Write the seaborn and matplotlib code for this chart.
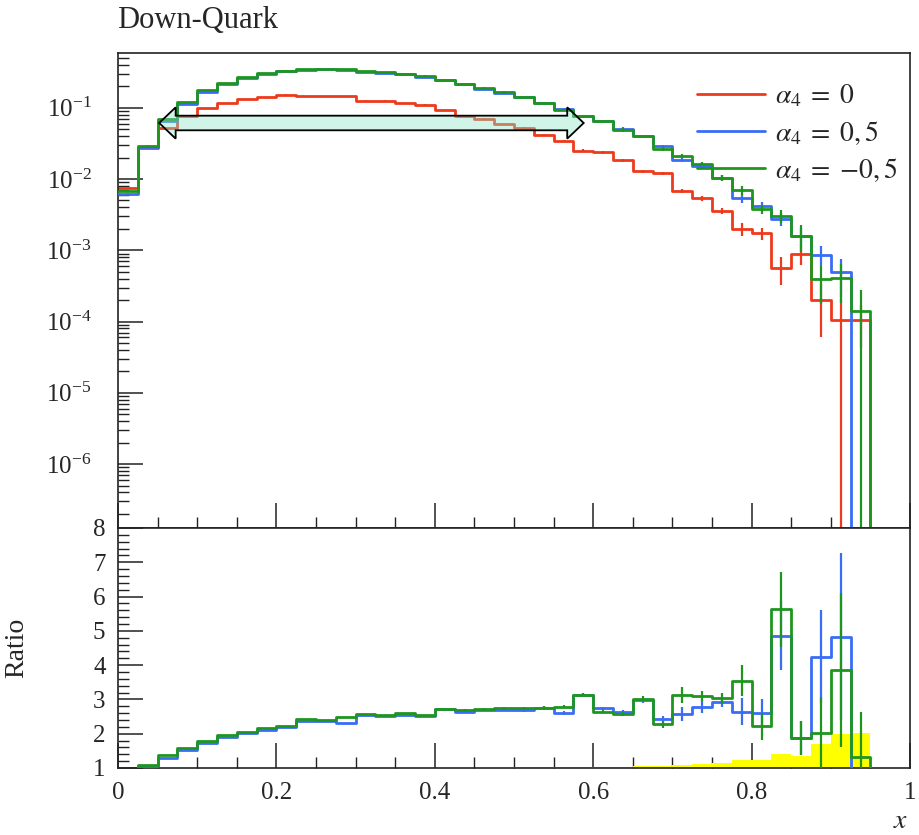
import numpy as np
import pandas as pd
import matplotlib
matplotlib.use("Agg")
import matplotlib.pyplot as plt
import seaborn as sns
from matplotlib.patches import Polygon
from matplotlib.ticker import MultipleLocator, LogLocator, NullFormatter, FuncFormatter

# ---------------- data ----------------
bin_edges = np.linspace(0.0, 1.0, 41)          # 40 bins of width 0.025

labels = [r"$\alpha_4\;=\;0$", r"$\alpha_4\;=\;0,5$", r"$\alpha_4\;=\;{-}0,5$"]

red_vals = [0.0075, 0.027, 0.052, 0.0755, 0.099, 0.116, 0.132, 0.140, 0.152, 0.144,
            0.144, 0.144, 0.125, 0.125, 0.116, 0.110, 0.0918, 0.0773, 0.0693, 0.0597,
            0.0513, 0.0418, 0.0344, 0.0249, 0.0237, 0.0183, 0.0128, 0.0120, 0.0068, 0.0054,
            0.0036, 0.0020, 0.00173, 0.00056, 0.00089, 0.00020, 0.000105, 0.000105, 0.0, 0.0]
blue_vals = [0.0062, 0.028, 0.066, 0.114, 0.168, 0.218, 0.263, 0.300, 0.325, 0.338,
             0.345, 0.340, 0.320, 0.310, 0.295, 0.270, 0.245, 0.212, 0.185, 0.163,
             0.141, 0.117, 0.0960, 0.0773, 0.0660, 0.0500, 0.0396, 0.0287, 0.0183, 0.0154,
             0.0103, 0.0054, 0.0042, 0.00275, 0.0016, 0.00087, 0.00049, 0.0, 0.0, 0.0]
green_vals = [0.0067, 0.0293, 0.070, 0.120, 0.175, 0.222, 0.266, 0.307, 0.330, 0.345,
              0.349, 0.349, 0.323, 0.313, 0.300, 0.281, 0.247, 0.217, 0.189, 0.166,
              0.141, 0.116, 0.0938, 0.0773, 0.0643, 0.0491, 0.0396, 0.0265, 0.0212, 0.0162,
              0.0103, 0.0069, 0.0038, 0.00305, 0.0016, 0.00039, 0.00041, 0.000139, 0.0, 0.0]

# relative statistical errors (top panel)
red_rel = [0.01] * 18 + [0.03] * 5 + [0.05] * 5 + [0.07, 0.08, 0.10, 0.20, 0.20, 0.42, 0.30, 0.70, 1.0, 0.6, 0.0, 0.0]
blue_rel = [0.01] * 18 + [0.03] * 7 + [0.06] * 5 + [0.10, 0.15, 0.15, 0.20, 0.30, 0.30, 0.55, 0.0, 0.0, 0.0]
green_rel = [0.01] * 18 + [0.03] * 7 + [0.06] * 5 + [0.10, 0.15, 0.15, 0.20, 0.40, 0.55, 0.55, 1.0, 0.0, 0.0]

# ratio panel
green_ratio = [0.9, 1.09, 1.37, 1.59, 1.79, 1.95, 2.05, 2.16, 2.23, 2.44,
               2.40, 2.49, 2.58, 2.54, 2.59, 2.55, 2.73, 2.69, 2.73, 2.74,
               2.74, 2.76, 2.79, 3.13, 2.64, 2.57, 3.02, 2.28, 3.13, 3.11,
               3.03, 3.54, 2.22, 5.63, 1.87, 2.01, 3.86, 1.31, 0.0, 0.0]
blue_ratio = [0.85, 1.07, 1.28, 1.52, 1.72, 1.91, 2.03, 2.11, 2.19, 2.37,
              2.38, 2.32, 2.56, 2.52, 2.54, 2.53, 2.71, 2.64, 2.69, 2.70,
              2.69, 2.76, 2.61, 3.13, 2.74, 2.64, 2.98, 2.43, 2.57, 2.79,
              2.93, 2.64, 2.61, 4.86, 1.87, 4.25, 4.83, 0.0, 0.0, 0.0]
green_ratio_err = [0.0] * 16 + [0.03] * 4 + [0.05] * 6 + [0.07, 0.10, 0.22, 0.15, 0.15,
                   0.45, 0.39, 1.10, 0.50, 1.07, 2.24, 1.33, 0.0, 0.0]
blue_ratio_err = [0.0] * 16 + [0.03] * 4 + [0.05] * 6 + [0.07, 0.10, 0.20, 0.20, 0.15,
                  0.40, 0.40, 1.00, 0.50, 1.35, 2.43, 0.0, 0.0, 0.0]
yellow_band = [1.004] * 16 + [1.008, 1.008, 1.01, 1.01, 1.015, 1.015, 1.02, 1.02, 1.03, 1.03,
               1.07, 1.07, 1.09, 1.11, 1.16, 1.23, 1.23, 1.41, 1.35, 1.70, 1.99, 2.01, 1.0, 1.0]

# annotation arrow (x-range in data units, centre height)
arrow_x = (0.052, 0.588)
arrow_y = 0.061

colors = ["#ee3a1c", "#3a6df5", "#1e961e"]

# ---------------- style ----------------
sns.set_theme(style="ticks")
plt.rcParams.update({
    "font.family": ["Liberation Serif", "DejaVu Serif"],
    "mathtext.fontset": "stix",
    "axes.linewidth": 1.2,
    "axes.edgecolor": "#222222",
})

fig = plt.figure(figsize=(9.19, 8.35), dpi=100)
ax1 = fig.add_axes([118 / 919, 1 - 528 / 835, 792 / 919, 475 / 835])
ax2 = fig.add_axes([118 / 919, 1 - 768 / 835, 792 / 919, 240 / 835])

centers = (bin_edges[:-1] + bin_edges[1:]) / 2


def step(ax, vals, color, label=None, z=2):
    y = list(vals) + [vals[-1]]
    df = pd.DataFrame({"x": bin_edges, "y": y})
    sns.lineplot(data=df, x="x", y="y", ax=ax, color=color, lw=2.0,
                 drawstyle="steps-post", estimator=None, errorbar=None,
                 sort=False, label=label, legend=False, zorder=z)


# ---------------- top panel ----------------
series = [(red_vals, red_rel), (blue_vals, blue_rel), (green_vals, green_rel)]
for i, ((vals, rel), col, lab) in enumerate(zip(series, colors, labels)):
    step(ax1, vals, col, lab, z=2 + i)
    v = np.array(vals)
    r = np.array(rel)
    m = (v > 0) & (r > 0)
    lo = v[m] * np.minimum(r[m], 1.0)
    hi = v[m] * r[m]
    ax1.errorbar(centers[m], v[m], yerr=[lo, hi], fmt="none", ecolor=col,
                 elinewidth=1.6, capsize=0, zorder=2 + i)

ax1.set_yscale("log")
ax1.set_xlim(0, 1)
ax1.set_ylim(1.27e-7, 0.585)

# double arrow annotation
lx = np.log10(arrow_y)
body, head = 0.1025, 0.22
hl = 0.0208
x0, x1 = arrow_x
pts = [
    (x0, 10 ** lx),
    (x0 + hl, 10 ** (lx + head)),
    (x0 + hl, 10 ** (lx + body)),
    (x1 - hl, 10 ** (lx + body)),
    (x1 - hl, 10 ** (lx + head)),
    (x1, 10 ** lx),
    (x1 - hl, 10 ** (lx - head)),
    (x1 - hl, 10 ** (lx - body)),
    (x0 + hl, 10 ** (lx - body)),
    (x0 + hl, 10 ** (lx - head)),
]
ax1.add_patch(Polygon(pts, closed=True, facecolor=(0.54, 0.90, 0.78, 0.4),
                      edgecolor="black", lw=1.3, zorder=10))

ax1.xaxis.set_major_locator(MultipleLocator(0.2))
ax1.xaxis.set_minor_locator(MultipleLocator(0.05))
ax1.yaxis.set_major_locator(LogLocator(base=10, numticks=20))
ax1.yaxis.set_minor_locator(LogLocator(base=10, subs=np.arange(2, 10), numticks=20))
ax1.yaxis.set_minor_formatter(NullFormatter())
ax1.tick_params(which="major", direction="in", length=18, width=1.1, top=False,
                right=False, labelbottom=False, labelsize=18, pad=19, color="#222222")
ax1.tick_params(which="minor", direction="in", length=8, width=1.0, top=False,
                right=False, color="#222222")
ax1.set_xlabel("")
ax1.set_ylabel("")

leg = ax1.legend(loc="upper left", bbox_to_anchor=((697 - 118) / 792, (528 - 83) / 475),
                 frameon=False, fontsize=20, handlelength=2.45, handletextpad=0.35,
                 labelspacing=0.33, borderpad=0, borderaxespad=0)
for line in leg.get_lines():
    line.set_linewidth(2.0)

fig.text(117 / 919, 1 - 28 / 835, "Down-Quark", ha="left", va="baseline", fontsize=22)

# ---------------- ratio panel ----------------
ax2.fill_between(bin_edges, 1.0, list(yellow_band) + [yellow_band[-1]], step="post",
                 color="#ffff00", lw=0, zorder=1)
for i, (vals, err, col) in enumerate([(blue_ratio, blue_ratio_err, colors[1]),
                                      (green_ratio, green_ratio_err, colors[2])]):
    step(ax2, vals, col, None, z=3 + i)
    v = np.array(vals)
    e = np.array(err)
    m = (v > 0) & (e > 0)
    ax2.errorbar(centers[m], v[m], yerr=e[m], fmt="none", ecolor=col,
                 elinewidth=1.6, capsize=0, zorder=3 + i)

ax2.set_xlim(0, 1)
ax2.set_ylim(1, 8)
ax2.xaxis.set_major_locator(MultipleLocator(0.2))
ax2.xaxis.set_minor_locator(MultipleLocator(0.05))
ax2.yaxis.set_major_locator(MultipleLocator(1))
ax2.yaxis.set_minor_locator(MultipleLocator(0.2))
ax2.xaxis.set_major_formatter(FuncFormatter(
    lambda v, p: "0" if abs(v) < 1e-9 else ("1" if abs(v - 1) < 1e-9 else f"{v:.1f}")))
ax2.yaxis.set_major_formatter(FuncFormatter(lambda v, p: f"{int(round(v))}"))
ax2.tick_params(which="major", direction="in", length=18, width=1.1, top=False,
                right=False, labelsize=18, color="#222222")
ax2.tick_params(axis="y", which="major", pad=9)
ax2.tick_params(axis="x", which="major", pad=10)
ax2.tick_params(which="minor", direction="in", length=8, width=1.0, top=False,
                right=False, color="#222222")
ax2.set_ylabel("Ratio", fontsize=20)
ax2.yaxis.set_label_coords(-0.112, 0.5)
ax2.set_xlabel(r"$x$", fontsize=20, loc="right")
ax2.xaxis.set_label_coords(0.998, -0.17)
ax2.xaxis.label.set_ha("right")

fig.savefig("out.png", dpi=100)
